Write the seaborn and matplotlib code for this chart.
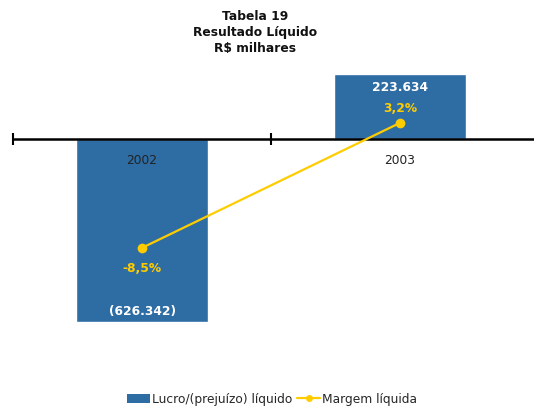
import numpy as np
import pandas as pd
import matplotlib
matplotlib.use("Agg")
import matplotlib.pyplot as plt
import seaborn as sns
from matplotlib.patches import Patch
from matplotlib.lines import Line2D

# Data
anos = ["2002", "2003"]
resultado = [-626.342, 223.634]          # R$ milhares (thousands)
resultado_txt = ["(626.342)", "223.634"]
margem = [-8.5, 3.2]                     # %
margem_txt = ["-8,5%", "3,2%"]

AZUL = "#2E6DA4"
AMARELO = "#FFCC00"

sns.set_theme(style="white")
plt.rcParams["font.family"] = ["DejaVu Sans"]

W, H = 534, 410
fig = plt.figure(figsize=(W / 100, H / 100), dpi=100)

# Plot area in pixels: x 13..529, y 60..345
ax = fig.add_axes([13 / W, (H - 345) / H, (529 - 13) / W, (345 - 60) / H])
df = pd.DataFrame({"ano": anos, "resultado": resultado, "margem": margem})

sns.barplot(data=df, x="ano", y="resultado", color=AZUL, width=0.51,
            saturation=1, ax=ax)
ax.set_xlim(-0.5, 1.5)
ax.set_ylim(-702, 274)
ax.set_axisbelow(False)

# Secondary axis for margin line
ax2 = ax.twinx()
pos = np.arange(len(anos))
sns.lineplot(x=pos, y=df["margem"], color=AMARELO, marker="o", markersize=7,
             markeredgewidth=0, linewidth=1.6, ax=ax2)
ax2.set_ylim(-17.5, 9.18)

# Axes cosmetics: only the zero line with category boundary ticks
for a in (ax, ax2):
    for s in a.spines.values():
        s.set_visible(False)
    a.set_yticks([])
    a.set_ylabel("")
    a.set_xlabel("")
    a.grid(False)
ax.spines["bottom"].set_visible(True)
ax.spines["bottom"].set_position(("data", 0))
ax.spines["bottom"].set_color("black")
ax.spines["bottom"].set_linewidth(1.8)
ax.spines["bottom"].set_bounds(-0.5, 1.6)
ax.set_xticks(pos[:-1] - 0.5)  # last boundary falls outside the image
ax.set_xticks(pos - 0.5)
ax.set_xticklabels([])
ax.tick_params(axis="x", which="major", direction="inout", length=9,
               width=1.5, color="black", bottom=True)
ax.set_xticks(pos, minor=True)
ax.set_xticklabels(anos, minor=True)
ax.tick_params(axis="x", which="minor", length=0, pad=10, labelsize=8.8,
               labelcolor="#222222", bottom=True)
ax.patch.set_alpha(0)
ax.set_xlim(-0.5, 1.5)

# Value labels
for i, (v, t) in enumerate(zip(resultado, resultado_txt)):
    off = -9 if v > 0 else 8
    ax.annotate(t, (i, v), xytext=(0, off), textcoords="offset points",
                ha="center", va="center", color="white", fontsize=8.8,
                fontweight="bold")
for i, (m, t) in enumerate(zip(margem, margem_txt)):
    off = 11 if m > 0 else -14
    ax2.annotate(t, (i, m), xytext=(0, off), textcoords="offset points",
                 ha="center", va="center", color=AMARELO, fontsize=8.8,
                 fontweight="bold")

# Title
fig.text(255 / W, 1 - 10 / H, "Tabela 19\nResultado Líquido\nR$ milhares",
         ha="center", va="top", fontsize=8.8, fontweight="bold",
         color="#111111", linespacing=1.3)

# Legend
handles = [Patch(facecolor=AZUL, edgecolor="none"),
           Line2D([], [], color=AMARELO, marker="o", markersize=5,
                  markeredgewidth=0, linewidth=1.6)]
fig.legend(handles, ["Lucro/(prejuízo) líquido", "Margem líquida"],
           loc="center", bbox_to_anchor=(272 / W, 1 - 400 / H), ncol=2,
           frameon=False, fontsize=8.8, handlelength=1.9, handletextpad=0.15,
           columnspacing=0.4, borderaxespad=0)

fig.savefig("out.png", dpi=100)
